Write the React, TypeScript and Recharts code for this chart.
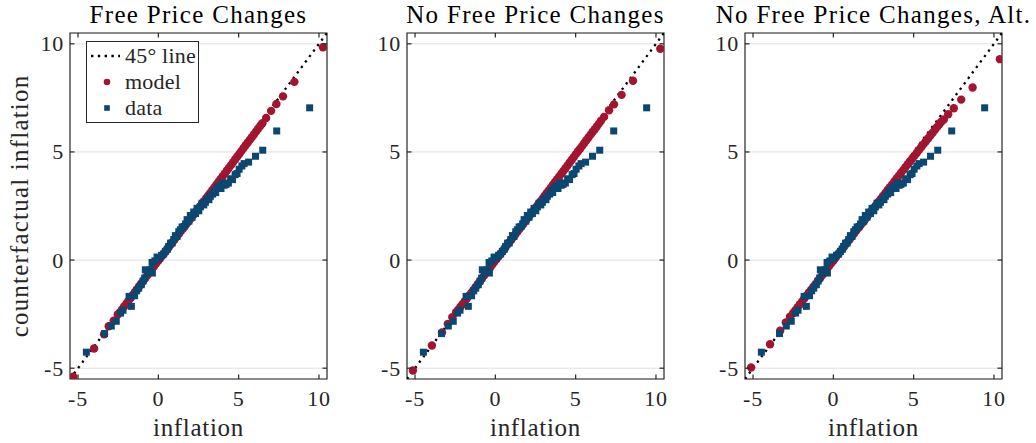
import React from 'react';
import { ScatterChart, Scatter, XAxis, YAxis, CartesianGrid, ReferenceArea, Legend, Label } from 'recharts';

// ---------- data ----------
const TITLES = ['Free Price Changes', 'No Free Price Changes', 'No Free Price Changes, Alt.'];
const X_LABEL = 'inflation';
const Y_LABEL = 'counterfactual inflation';
const LEGEND_LABELS = ['45\u00B0 line', 'model', 'data'];
const AXIS_TICKS = [-5, 0, 5, 10];
const AXIS_DOMAIN: [number, number] = [-5.5, 10.5];
const DIAGONAL = [-5.5, 10.5];

// observed data (same in every panel): [inflation, counterfactual inflation]
const DATA_POINTS: [number, number][] = [
  [-4.48, -4.26], [-3.35, -3.4], [-2.93, -3.05], [-2.62, -2.83], [-2.35, -2.45], [-2.2, -2.32],
  [-1.82, -1.68], [-1.68, -2.14], [-1.48, -1.65], [-1.35, -1.42], [-1.22, -1.3], [-1.06, -1.14],
  [-0.95, -0.97], [-0.85, -0.83], [-0.81, -0.45], [-0.64, -0.55], [-0.5, -0.45], [-0.37, -0.6],
  [-0.39, -0.11], [-0.22, -0.04], [-0.08, 0.14], [0.06, 0.09], [0.2, 0.22], [0.33, 0.28],
  [0.44, 0.4], [0.56, 0.5], [0.64, 0.63], [0.76, 0.78], [0.86, 0.79], [0.96, 0.95],
  [1.06, 1.13], [1.16, 1.09], [1.27, 1.31], [1.37, 1.4], [1.48, 1.53], [1.6, 1.55],
  [1.7, 1.67], [1.79, 1.87], [1.9, 1.8], [1.99, 2.06], [2.1, 1.98], [2.2, 2.22],
  [2.31, 2.15], [2.41, 2.39], [2.52, 2.28], [2.62, 2.46], [2.72, 2.63], [2.83, 2.55],
  [2.93, 2.67], [3.05, 2.84], [3.15, 2.79], [3.24, 2.95], [3.38, 3.05], [3.5, 3.21],
  [3.57, 3.12], [3.68, 3.34], [3.78, 3.41], [3.9, 3.31], [4.0, 3.57], [4.1, 3.46],
  [4.21, 3.5], [4.36, 3.56], [4.5, 3.76], [4.62, 3.72], [4.78, 3.95], [4.9, 4.0],
  [5.03, 4.2], [5.2, 4.35], [5.34, 4.46], [5.62, 4.53], [6.05, 4.8], [6.5, 5.08],
  [7.37, 5.97], [9.42, 7.04],
];

// model, free price changes
const MODEL_FREE: [number, number][] = [
  [-5.3, -5.39], [-4.0, -4.09], [-3.38, -3.43], [-3.09, -3.06], [-2.78, -2.8], [-2.53, -2.52],
  [-2.4, -2.42], [-2.26, -2.29], [-2.13, -2.15], [-1.99, -2.02], [-1.86, -1.88], [-1.72, -1.75],
  [-1.59, -1.61], [-1.46, -1.48], [-1.32, -1.35], [-1.19, -1.21], [-1.06, -1.08], [-0.93, -0.95],
  [-0.8, -0.82], [-0.67, -0.69], [-0.54, -0.56], [-0.41, -0.43], [-0.28, -0.3], [-0.15, -0.17],
  [-0.02, -0.05], [0.11, 0.07], [0.24, 0.2], [0.37, 0.33], [0.5, 0.45], [0.63, 0.58],
  [0.76, 0.71], [0.89, 0.83], [1.02, 0.96], [1.15, 1.09], [1.28, 1.21], [1.41, 1.34],
  [1.54, 1.46], [1.67, 1.59], [1.8, 1.71], [1.93, 1.84], [2.06, 1.96], [2.19, 2.09],
  [2.32, 2.21], [2.45, 2.34], [2.58, 2.47], [2.71, 2.59], [2.84, 2.72], [2.97, 2.85],
  [3.1, 2.98], [3.23, 3.1], [3.36, 3.23], [3.49, 3.36], [3.62, 3.49], [3.75, 3.62],
  [3.88, 3.75], [4.01, 3.88], [4.14, 4.01], [4.27, 4.14], [4.4, 4.27], [4.53, 4.4],
  [4.66, 4.53], [4.79, 4.66], [4.92, 4.79], [5.05, 4.92], [5.18, 5.05], [5.31, 5.18],
  [5.44, 5.31], [5.57, 5.44], [5.7, 5.56], [5.83, 5.69], [5.96, 5.82], [6.09, 5.95],
  [6.22, 6.08], [6.35, 6.21], [6.48, 6.33],
  [6.71, 6.57], [7.02, 6.9], [7.35, 7.22], [7.76, 7.57], [8.47, 8.24], [10.25, 9.84],
];

// model, no free price changes
const MODEL_NO_FREE: [number, number][] = [
  [-5.13, -5.11], [-3.95, -3.95], [-3.32, -3.35], [-2.96, -2.95], [-2.68, -2.64],
  [-2.44, -2.41], [-2.3, -2.29], [-2.17, -2.16], [-2.03, -2.03], [-1.9, -1.9], [-1.76, -1.77],
  [-1.63, -1.64], [-1.49, -1.51], [-1.36, -1.38], [-1.22, -1.24], [-1.09, -1.11], [-0.96, -0.98],
  [-0.83, -0.85], [-0.7, -0.72], [-0.57, -0.59], [-0.44, -0.46], [-0.31, -0.33], [-0.18, -0.2],
  [-0.05, -0.07], [0.08, 0.05], [0.21, 0.18], [0.34, 0.31], [0.47, 0.43], [0.6, 0.56],
  [0.73, 0.69], [0.86, 0.81], [0.99, 0.94], [1.12, 1.07], [1.25, 1.19], [1.38, 1.32],
  [1.51, 1.45], [1.64, 1.57], [1.77, 1.7], [1.9, 1.83], [2.03, 1.95], [2.16, 2.08],
  [2.29, 2.21], [2.42, 2.33], [2.55, 2.46], [2.68, 2.59], [2.81, 2.71], [2.94, 2.84],
  [3.07, 2.97], [3.2, 3.1], [3.33, 3.22], [3.46, 3.35], [3.59, 3.48], [3.72, 3.61],
  [3.85, 3.74], [3.98, 3.86], [4.11, 3.99], [4.24, 4.12], [4.37, 4.25], [4.5, 4.38],
  [4.63, 4.51], [4.76, 4.64], [4.89, 4.77], [5.02, 4.9], [5.15, 5.03], [5.28, 5.15],
  [5.41, 5.28], [5.54, 5.41], [5.67, 5.54], [5.8, 5.67], [5.93, 5.8], [6.06, 5.93],
  [6.19, 6.05], [6.32, 6.18], [6.45, 6.31], [6.58, 6.44],
  [6.77, 6.62], [7.08, 6.93], [7.39, 7.2], [7.86, 7.64], [8.57, 8.29], [10.27, 9.77],
];

// model, no free price changes, alternative
const MODEL_NO_FREE_ALT: [number, number][] = [
  [-5.12, -4.97], [-3.94, -3.89], [-3.31, -3.27], [-2.96, -2.89], [-2.7, -2.62],
  [-2.5, -2.45], [-2.36, -2.32], [-2.22, -2.18], [-2.08, -2.04], [-1.94, -1.91], [-1.8, -1.77],
  [-1.66, -1.64], [-1.52, -1.5], [-1.38, -1.37], [-1.24, -1.23], [-1.1, -1.1], [-0.96, -0.96],
  [-0.82, -0.83], [-0.68, -0.69], [-0.54, -0.56], [-0.4, -0.42], [-0.26, -0.28], [-0.12, -0.14],
  [0.02, -0.01], [0.16, 0.13], [0.3, 0.27], [0.44, 0.4], [0.58, 0.54], [0.72, 0.67],
  [0.86, 0.81], [1.0, 0.94], [1.14, 1.08], [1.28, 1.21], [1.42, 1.35], [1.56, 1.48],
  [1.7, 1.62], [1.84, 1.75], [1.98, 1.89], [2.12, 2.02], [2.26, 2.16], [2.4, 2.29],
  [2.54, 2.43], [2.68, 2.56], [2.82, 2.7], [2.96, 2.83], [3.1, 2.97], [3.24, 3.1],
  [3.38, 3.24], [3.52, 3.37], [3.66, 3.5], [3.8, 3.64], [3.94, 3.77], [4.08, 3.9],
  [4.22, 4.04], [4.36, 4.17], [4.5, 4.3], [4.64, 4.44], [4.78, 4.57], [4.92, 4.7],
  [5.06, 4.83], [5.2, 4.96], [5.34, 5.1], [5.48, 5.23], [5.62, 5.36], [5.76, 5.49],
  [5.9, 5.62], [6.04, 5.76], [6.18, 5.89], [6.32, 6.02], [6.46, 6.15], [6.6, 6.28], [6.72, 6.4],
  [6.88, 6.5], [7.15, 6.74], [7.5, 7.02], [7.96, 7.42], [8.67, 7.98], [10.37, 9.29],
];

// ---------- styling / layout ----------
const FONT = "'Liberation Serif', 'Times New Roman', serif";
const RED = '#A2142F';
const BLUE = '#0A4771';
const AXIS_COLOR = '#262626';
const W = 361;
const H = 443;
const PL = 70;
const PR = 327;
const MR = W - PR;
const PT = 33;
const PB = 379;
const TICK_LEN = 4.5;

const XTick = (props: any) => {
  const { x, payload } = props;
  return (
    <g>
      <line x1={x} x2={x} y1={PB} y2={PB - TICK_LEN} stroke={AXIS_COLOR} strokeWidth={1.2} />
      <line x1={x} x2={x} y1={PT} y2={PT + TICK_LEN} stroke={AXIS_COLOR} strokeWidth={1.2} />
      <text x={x} y={PB + 27} textAnchor="middle" fontFamily={FONT} fontSize={22} fill={AXIS_COLOR} letterSpacing={0.8}>
        {String(payload.value)}
      </text>
    </g>
  );
};

const YTick = (props: any) => {
  const { y, payload } = props;
  return (
    <g>
      <line x1={PL} x2={PL + TICK_LEN} y1={y} y2={y} stroke={AXIS_COLOR} strokeWidth={1.2} />
      <line x1={PR} x2={PR - TICK_LEN} y1={y} y2={y} stroke={AXIS_COLOR} strokeWidth={1.2} />
      <text x={PL - 6} y={y + 7.5} textAnchor="end" fontFamily={FONT} fontSize={22} fill={AXIS_COLOR} letterSpacing={0.8}>
        {String(payload.value)}
      </text>
    </g>
  );
};

const RedDot = (props: any) => <circle cx={props.cx} cy={props.cy} r={4.2} fill={RED} />;
const BlueSquare = (props: any) => (
  <rect x={props.cx - 3.5} y={props.cy - 3.5} width={7} height={7} fill={BLUE} />
);
const NoShape = () => <g />;

const LegendBox = () => (
  <div
    style={{
      width: 111,
      height: 80,
      border: `1.2px solid ${AXIS_COLOR}`,
      background: '#fff',
      fontFamily: FONT,
      fontSize: 22,
      color: AXIS_COLOR,
      letterSpacing: 0.2,
    }}
  >
    {LEGEND_LABELS.map((lab, i) => (
      <div key={lab} style={{ height: 26, display: 'flex', alignItems: 'center', position: 'relative', top: 1 }}>
        <svg width={38} height={26} style={{ flex: 'none' }}>
          {i === 0 && (
            <line x1={4} x2={33} y1={13} y2={13} stroke="#000" strokeWidth={2.4} strokeDasharray="2.4 4.4" />
          )}
          {i === 1 && <circle cx={20} cy={13} r={3.3} fill={RED} />}
          {i === 2 && <rect x={17.2} y={10.2} width={5.6} height={5.6} fill={BLUE} />}
        </svg>
        <span style={{ lineHeight: '26px' }}>{lab}</span>
      </div>
    ))}
  </div>
);

type PanelProps = {
  left: number;
  title: string;
  model: [number, number][];
  showYLabel?: boolean;
  showLegend?: boolean;
};

function Panel({ left, title, model, showYLabel, showLegend }: PanelProps) {
  const modelRows = model.map(([x, y]) => ({ x, y }));
  const dataRows = DATA_POINTS.map(([x, y]) => ({ x, y }));
  const diagRows = DIAGONAL.map((v) => ({ x: v, y: v }));
  return (
    <div style={{ position: 'absolute', left, top: 0, width: W, height: H }}>
      <ScatterChart width={W} height={H} margin={{ top: PT, right: MR, bottom: 0, left: 0 }}>
        <CartesianGrid horizontal vertical={false} stroke="#dedede" strokeWidth={1} />
        <XAxis
          type="number"
          dataKey="x"
          domain={AXIS_DOMAIN}
          ticks={AXIS_TICKS}
          interval={0}
          allowDataOverflow
          height={H - PB}
          axisLine={false}
          tickLine={false}
          tick={<XTick />}
        >
          <Label
            content={(p: any) => (
              <text
                x={p.viewBox.x + p.viewBox.width / 2}
                y={436}
                textAnchor="middle"
                fontFamily={FONT}
                fontSize={25}
                fill={AXIS_COLOR}
                letterSpacing={0.7}
              >
                {X_LABEL}
              </text>
            )}
          />
        </XAxis>
        <YAxis
          type="number"
          dataKey="y"
          domain={AXIS_DOMAIN}
          ticks={AXIS_TICKS}
          interval={0}
          allowDataOverflow
          width={PL}
          axisLine={false}
          tickLine={false}
          tick={<YTick />}
        >
          {showYLabel && (
            <Label
              content={(p: any) => {
                const cy = p.viewBox.y + p.viewBox.height / 2;
                return (
                  <text
                    x={28}
                    y={cy}
                    transform={`rotate(-90, 28, ${cy})`}
                    textAnchor="middle"
                    fontFamily={FONT}
                    fontSize={25}
                    fill={AXIS_COLOR}
                    letterSpacing={1.2}
                  >
                    {Y_LABEL}
                  </text>
                );
              }}
            />
          )}
        </YAxis>
        <Scatter
          name={LEGEND_LABELS[0]}
          data={diagRows}
          line={{ stroke: '#000', strokeWidth: 2.3, strokeDasharray: '2.3 4.5' }}
          shape={NoShape}
          isAnimationActive={false}
        />
        <Scatter name={LEGEND_LABELS[1]} data={modelRows} shape={RedDot} isAnimationActive={false} />
        <Scatter name={LEGEND_LABELS[2]} data={dataRows} shape={BlueSquare} isAnimationActive={false} />
        <ReferenceArea
          x1={AXIS_DOMAIN[0]}
          x2={AXIS_DOMAIN[1]}
          y1={AXIS_DOMAIN[0]}
          y2={AXIS_DOMAIN[1]}
          fill="none"
          fillOpacity={0}
          stroke={AXIS_COLOR}
          strokeWidth={1.2}
          ifOverflow="visible"
          label={(p: any) => (
            <text
              x={p.viewBox.x + p.viewBox.width / 2}
              y={p.viewBox.y - 10}
              textAnchor="middle"
              fontFamily={FONT}
              fontSize={25}
              fill="#000"
              letterSpacing={1.3}
            >
              {title}
            </text>
          )}
        />
        {showLegend && (
          <Legend
            layout="vertical"
            align="center"
            verticalAlign="middle"
            content={<LegendBox />}
            wrapperStyle={{ left: 86, top: 41, width: 113, height: 82 }}
          />
        )}
      </ScatterChart>
    </div>
  );
}

export default function App() {
  return (
    <div style={{ position: 'absolute', left: 0, top: 0, width: 1036, height: 443, background: '#fff' }}>
      <Panel left={0} title={TITLES[0]} model={MODEL_FREE} showYLabel showLegend />
      <Panel left={337} title={TITLES[1]} model={MODEL_NO_FREE} />
      <Panel left={675} title={TITLES[2]} model={MODEL_NO_FREE_ALT} />
    </div>
  );
}
